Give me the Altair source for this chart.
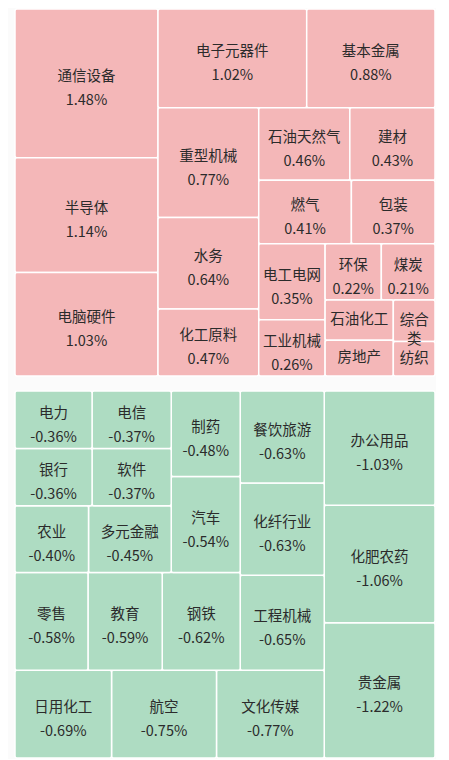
import altair as alt
import pandas as pd

# ---- data -------------------------------------------------------------
up_names = ["通信设备", "半导体", "电脑硬件", "电子元器件", "基本金属", "重型机械",
            "水务", "化工原料", "石油天然气", "建材", "燃气", "包装", "电工电网",
            "工业机械", "环保", "煤炭", "石油化工", "房地产", "综合类", "纺织"]
up_values = [1.48, 1.14, 1.03, 1.02, 0.88, 0.77, 0.64, 0.47, 0.46, 0.43, 0.41,
             0.37, 0.35, 0.26, 0.22, 0.21, 0.19, 0.17, 0.12, 0.10]

down_names = ["贵金属", "化肥农药", "办公用品", "文化传媒", "航空", "日用化工",
              "工程机械", "化纤行业", "餐饮旅游", "钢铁", "教育", "零售", "汽车",
              "制药", "多元金融", "农业", "软件", "电信", "银行", "电力"]
down_values = [-1.22, -1.06, -1.03, -0.77, -0.75, -0.69, -0.65, -0.63, -0.63,
               -0.62, -0.59, -0.58, -0.54, -0.48, -0.45, -0.40, -0.37, -0.37,
               -0.36, -0.36]

UP_COLOR = "#F4B7B8"
DOWN_COLOR = "#AEDCC2"
TEXT_COLOR = "#2B2B2B"
FONT = "Noto Sans CJK SC"
FS = 14.5

W, H = 420, 367


# ---- squarified treemap layout (d3 squarify, ratio 1) -----------------
def squarify(values, x0, y0, x1, y1, ratio=1.0):
    n = len(values)
    out = [None] * n
    value = float(sum(values))
    i0 = i1 = 0
    while i0 < n:
        dx, dy = x1 - x0, y1 - y0
        s = values[i1]
        i1 += 1
        mn = mx = s
        alpha = max(dy / dx, dx / dy) / (value * ratio)
        beta = s * s * alpha
        min_ratio = max(mx / beta, beta / mn)
        while i1 < n:
            v = values[i1]
            s2 = s + v
            mn2, mx2 = min(mn, v), max(mx, v)
            beta = s2 * s2 * alpha
            new_ratio = max(mx2 / beta, beta / mn2)
            if new_ratio > min_ratio:
                break
            s, mn, mx, min_ratio = s2, mn2, mx2, new_ratio
            i1 += 1
        idx = list(range(i0, i1))
        if dx < dy:  # row across the top
            yb = y0 + dy * s / value if value else y1
            xx = x0
            for i in idx:
                w = dx * values[i] / s
                out[i] = (xx, y0, xx + w, yb)
                xx += w
            y0 = yb
        else:  # column on the left
            xb = x0 + dx * s / value if value else x1
            yy = y0
            for i in idx:
                h = dy * values[i] / s
                out[i] = (x0, yy, xb, yy + h)
                yy += h
            x0 = xb
        value -= s
        i0 = i1
    return out


def wrap(name, width):
    per = max(1, int((width - 4) // FS))
    if len(name) * FS + 4 <= width:
        return name
    return "\n".join(name[i:i + per] for i in range(0, len(name), per))


def panel(names, values, color, flip):
    mags = [abs(v) for v in values]
    rects = squarify(mags, 0, 0, W, H)
    rows = []
    for nm, v, (a, b, c, d) in zip(names, values, rects):
        w, h = c - a, d - b
        rows.append(dict(
            name=wrap(nm, w), label=f"{v:.2f}%",
            x0=a, x1=c, y0=b, y1=d, cx=(a + c) / 2, cy=(b + d) / 2,
            show=bool(h >= 45),
        ))
    df = pd.DataFrame(rows)
    xs = alt.Scale(domain=[0, W], reverse=flip, nice=False, zero=False)
    ys = alt.Scale(domain=[0, H], reverse=not flip, nice=False, zero=False)
    base = alt.Chart(df)
    rect = base.mark_rect(color=color, stroke="white", strokeWidth=1.5,
                          cornerRadius=2).encode(
        x=alt.X("x0:Q", scale=xs, axis=None), x2="x1:Q",
        y=alt.Y("y0:Q", scale=ys, axis=None), y2="y1:Q",
    )
    tkw = dict(font=FONT, fontSize=FS, color=TEXT_COLOR, align="center",
               baseline="middle")
    pos = dict(x=alt.X("cx:Q", scale=xs, axis=None),
               y=alt.Y("cy:Q", scale=ys, axis=None))
    name_v = base.transform_filter("datum.show").mark_text(dy=-6, **tkw).encode(
        text="name:N", **pos)
    val_v = base.transform_filter("datum.show").mark_text(dy=18, **tkw).encode(
        text="label:N", **pos)
    name_o = base.transform_filter("!datum.show").mark_text(
        lineBreak="\n", lineHeight=19, **tkw).encode(text="name:N", **pos)
    return alt.layer(rect, name_v, val_v, name_o).properties(width=W, height=H)


top = panel(up_names, up_values, UP_COLOR, False)
bottom = panel(down_names, down_values, DOWN_COLOR, True)

chart = alt.vconcat(top, bottom, spacing=13).properties(
    padding={"left": 6, "top": 0, "right": 0, "bottom": 0},
    background="#FBFBFB",
).configure_view(strokeWidth=0)

chart.save("out.html", embed_options={"renderer": "svg", "actions": False})
